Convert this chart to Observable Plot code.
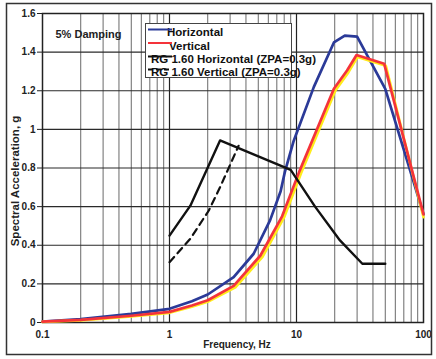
<!DOCTYPE html>
<html>
<head>
<meta charset="utf-8">
<script src="https://cdn.jsdelivr.net/npm/d3@7"></script>
<script src="https://cdn.jsdelivr.net/npm/@observablehq/plot@0.6"></script>
<style>
  html, body { margin: 0; padding: 0; background: #fff; }
</style>
</head>
<body>
<div id="chart"></div>
<script>
// Axis ticks and grid positions
const freqTicks = [0.1, 1, 10, 100];
const majorFreqs = [1, 10];
const minorFreqs = [0.2, 0.3, 0.4, 0.5, 0.6, 0.7, 0.8, 0.9,
                    2, 3, 4, 5, 6, 7, 8, 9,
                    20, 30, 40, 50, 60, 70, 80, 90];
const accelTicks = [0, 0.2, 0.4, 0.6, 0.8, 1, 1.2, 1.4, 1.6];

// Response spectra, 5% damping: [frequency (Hz), spectral acceleration (g)]
const horizontal = [
  [0.1, 0.005], [0.2, 0.018], [0.5, 0.045], [1, 0.071], [1.5, 0.11],
  [2, 0.145], [3.2, 0.235], [4.6, 0.356], [6.2, 0.53], [7.5, 0.68],
  [8.1, 0.78], [9.5, 0.94], [13.7, 1.22], [19.7, 1.45], [24, 1.485],
  [30, 1.48], [50, 1.21], [100, 0.56]
];
const vertical = [
  [0.1, 0.005], [0.2, 0.014], [0.5, 0.035], [1, 0.055], [1.5, 0.088],
  [2, 0.115], [3.2, 0.19], [5.2, 0.347], [7.7, 0.55], [10.5, 0.78],
  [19.7, 1.21], [25, 1.305], [29.7, 1.385], [49, 1.34], [100, 0.56]
];
const verticalShadow = [
  [0.1, 0.003], [0.2, 0.011], [0.5, 0.031], [1, 0.05], [1.5, 0.082],
  [2, 0.107], [3.3, 0.182], [5.4, 0.34], [8, 0.545], [10.9, 0.775],
  [20.2, 1.2], [25.6, 1.295], [30.3, 1.375], [50.5, 1.33], [100, 0.545]
];
const rgHorizontal = [
  [1, 0.45], [1.46, 0.605], [2.5, 0.943], [9, 0.79], [14, 0.6],
  [22, 0.425], [33, 0.304], [50, 0.304]
];
const rgVertical = [
  [1, 0.312], [1.46, 0.434], [2.04, 0.58], [2.5, 0.7], [3.5, 0.915]
];

const rows = (pts) => pts.map(([f, a]) => ({f, a}));

const blue = "#2b3a98";
const red = "#f4333a";
const yellow = "#ffec1a";
const ink = "#111";

const chart = Plot.plot({
  width: 436,
  height: 359,
  marginLeft: 42,
  marginRight: 13,
  marginTop: 13,
  marginBottom: 37,
  style: {
    fontFamily: "'Liberation Sans', Arial, sans-serif",
    fontSize: "10px",
    fontWeight: "bold",
    color: "#222",
    background: "#fff",
    overflow: "visible"
  },
  x: {type: "log", domain: [0.1, 100]},
  y: {domain: [0, 1.6]},
  marks: [
    Plot.ruleX(minorFreqs, {stroke: "#6a6a6a", strokeWidth: 1}),
    Plot.ruleX(majorFreqs, {stroke: "#222", strokeWidth: 1.2}),
    Plot.ruleY(accelTicks, {stroke: "#2a2a2a", strokeWidth: 1.2}),
    Plot.frame({stroke: "#222", strokeWidth: 1.5}),
    Plot.axisX({ticks: freqTicks, tickFormat: (d) => String(d), tickSize: 0, tickPadding: 8, label: null}),
    Plot.axisY({ticks: accelTicks, tickFormat: (d) => String(d), tickSize: 5, tickPadding: 2, label: null}),
    Plot.line(rows(horizontal), {x: "f", y: "a", stroke: blue, strokeWidth: 2.7}),
    Plot.line(rows(verticalShadow), {x: "f", y: "a", stroke: yellow, strokeWidth: 2.6}),
    Plot.line(rows(vertical), {x: "f", y: "a", stroke: red, strokeWidth: 2.7}),
    Plot.line(rows(rgHorizontal), {x: "f", y: "a", stroke: ink, strokeWidth: 2.4}),
    Plot.line(rows(rgVertical), {x: "f", y: "a", stroke: ink, strokeWidth: 2.2, strokeDasharray: "7,5"}),
    Plot.text(["5% Damping"], {text: (d) => d, frameAnchor: "top-left", dx: 13, dy: 17, textAnchor: "start", fontSize: 11}),
    Plot.text(["Frequency, Hz"], {text: (d) => d, frameAnchor: "bottom", dx: 4, dy: 25, textAnchor: "middle"}),
    Plot.text(["Spectral Acceleration, g"], {text: (d) => d, frameAnchor: "left", dx: -27, dy: 13, rotate: -90, textAnchor: "middle", fontSize: 11.5})
  ]
});

// Legend box drawn inside the plot area
const svg = d3.select(chart);
const legend = svg.append("g")
  .attr("font-family", "'Liberation Sans', Arial, sans-serif")
  .attr("font-weight", "bold")
  .attr("font-size", 11.5)
  .attr("text-anchor", "start");
legend.append("rect")
  .attr("x", 145.5).attr("y", 23.5).attr("width", 146).attr("height", 54)
  .style("fill", "#ffffff").style("stroke", "#444").style("stroke-width", "1px");

const entries = [
  {label: "Horizontal", color: blue, dash: null, tx: 167, base: 36},
  {label: "Vertical", color: red, dash: null, tx: 169, base: 49.5},
  {label: "RG 1.60 Horizontal (ZPA=0.3g)", color: ink, dash: null, tx: 151, base: 63},
  {label: "RG 1.60 Vertical (ZPA=0.3g)", color: ink, dash: "5,3", tx: 151, base: 76}
];
entries.forEach((e) => {
  legend.append("text")
    .attr("x", e.tx).attr("y", e.base)
    .style("fill", "#111")
    .text(e.label);
  legend.append("line")
    .attr("x1", 148).attr("x2", 172)
    .attr("y1", e.base - 6.5).attr("y2", e.base - 6.5)
    .style("stroke", e.color).style("stroke-width", "2px")
    .style("stroke-dasharray", e.dash);
});

// Outer border around the whole figure
svg.append("rect")
  .attr("x", 6.5).attr("y", 3.5).attr("width", 425).attr("height", 351)
  .style("fill", "none").style("stroke", "#333").style("stroke-width", "1.5px");

document.getElementById("chart").appendChild(chart);
</script>
</body>
</html>
